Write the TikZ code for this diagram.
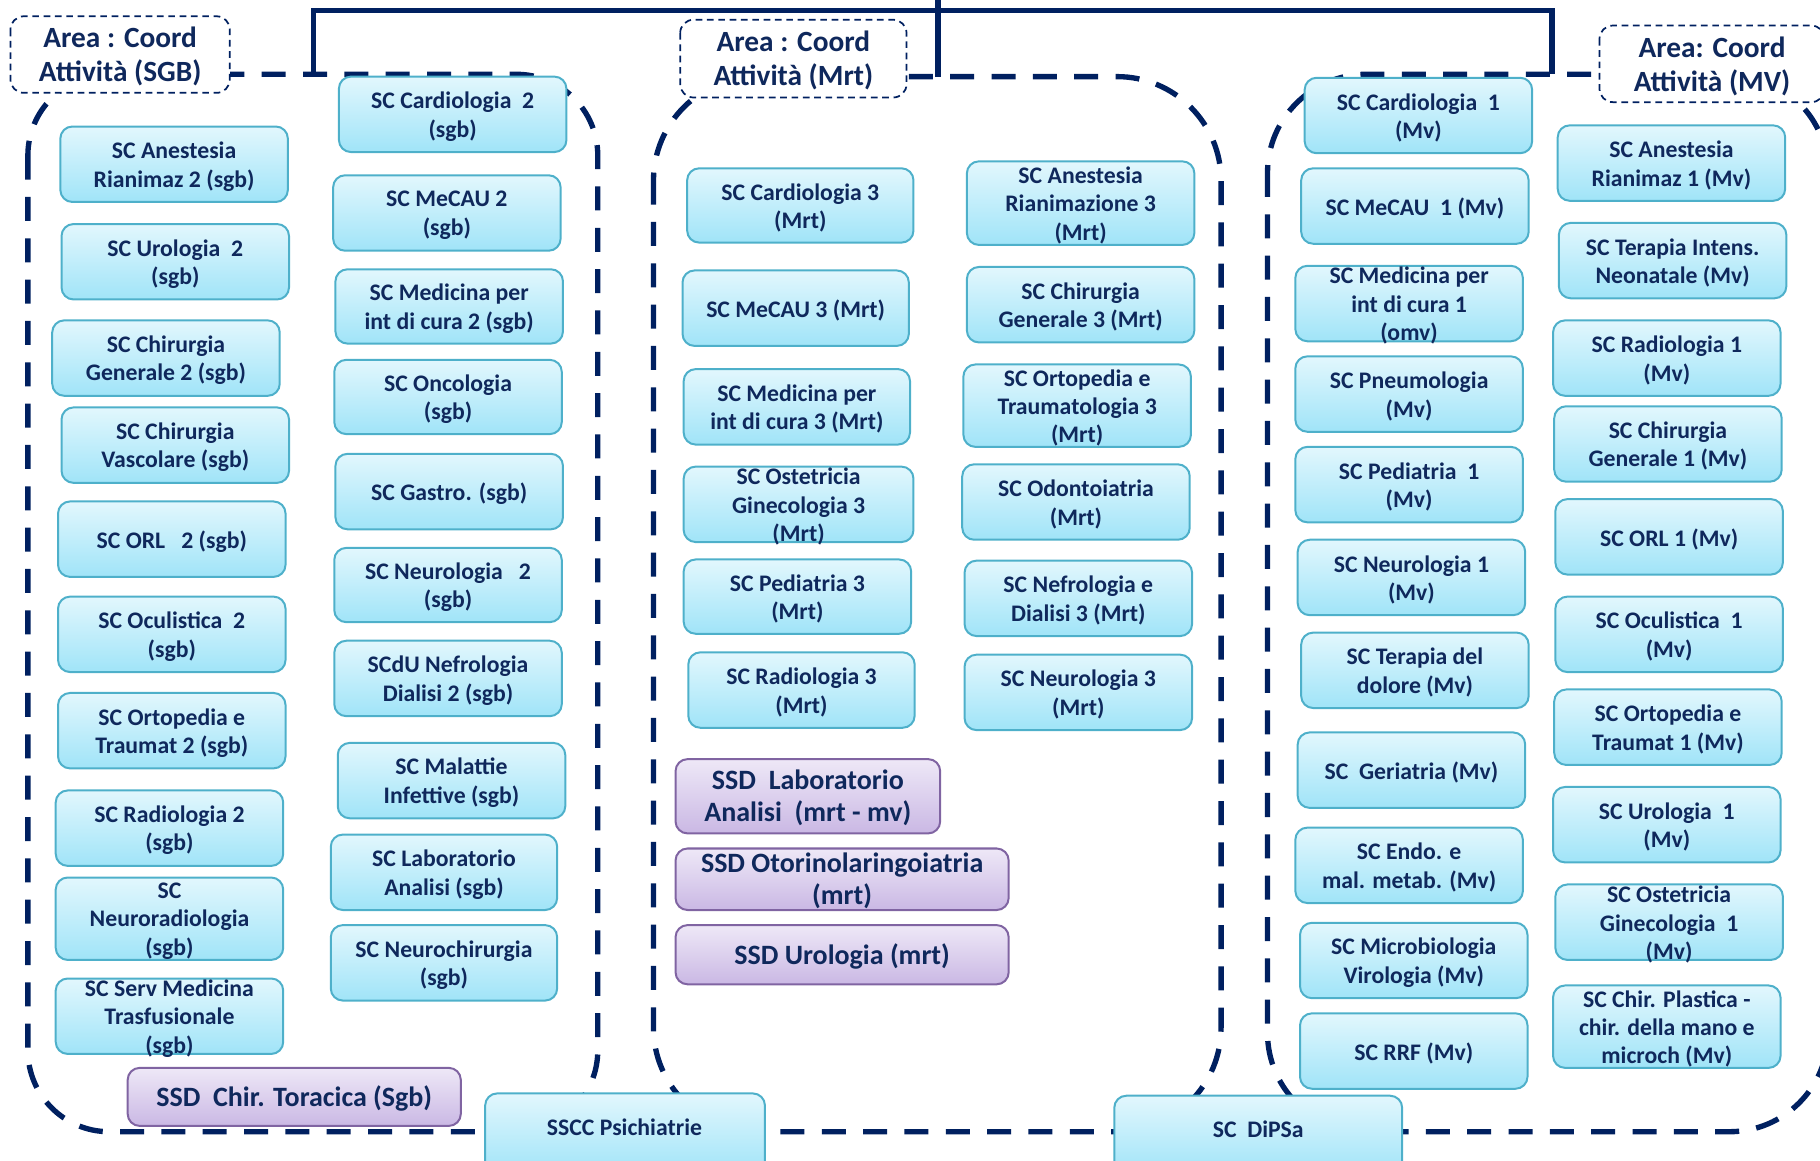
\documentclass[tikz,border=0pt]{standalone}
\usepackage{fontspec}
\setmainfont{Carlito}
\usetikzlibrary{calc}

\definecolor{navy}{RGB}{0,32,96}
\definecolor{ink}{RGB}{15,40,92}
\definecolor{aquaedge}{RGB}{78,176,202}
\definecolor{aquatop}{RGB}{226,247,253}
\definecolor{aquabot}{RGB}{160,228,248}
\definecolor{lilacedge}{RGB}{128,100,162}
\definecolor{lilactop}{RGB}{238,232,247}
\definecolor{lilacbot}{RGB}{202,184,228}

\tikzset{
  unitbox/.style={draw=aquaedge, line width=1.5pt, rounded corners=9pt,
    top color=aquatop, bottom color=aquabot},
  ssdbox/.style={draw=lilacedge, line width=1.5pt, rounded corners=9pt,
    top color=lilactop, bottom color=lilacbot},
  unittext/.style={text=ink, font=\bfseries\fontsize{17.8}{21.3}\selectfont,
    align=center, inner sep=0pt, yshift=-1.7pt},
  ssdtext/.style={text=ink, font=\bfseries\fontsize{21}{24}\selectfont,
    align=center, inner sep=0pt, yshift=-1.5pt},
  areabox/.style={draw=navy, fill=white, line width=1.3pt,
    dash pattern=on 5pt off 3.5pt, rounded corners=10pt},
  areatext/.style={text=ink, font=\bfseries\fontsize{22}{25.5}\selectfont,
    align=center, inner sep=0pt, yshift=-1.7pt},
  zone/.style={draw=navy, line width=4pt, dash pattern=on 18pt off 13pt},
  link/.style={draw=navy, line width=4pt},
}

% #1 box style, #2 text style, #3 name, (#4,#5)-(#6,#7) corners, #8 label
\newcommand\orgcell[8]{%
  \path[#1] (#4,#5) rectangle (#6,#7);
  \node[#2] (#3) at ({(#4+#6)/2},{(#5+#7)/2}) {#8};}
\newcommand\unit[6]{\orgcell{unitbox}{unittext}{#1}{#2}{#3}{#4}{#5}{#6}}
\newcommand\ssd[6]{\orgcell{ssdbox}{ssdtext}{#1}{#2}{#3}{#4}{#5}{#6}}

\begin{document}
\begin{tikzpicture}[x=0.8705pt, y=-0.8705pt]
\useasboundingbox (0,0) rectangle (1568,999.4);

% the three area outlines
\draw[zone, rounded corners=61pt] (24,64) rectangle (515,975);
\draw[zone, rounded corners=78pt] (563,66) rectangle (1052,975);
\draw[zone, rounded corners=74pt] (1092,64) rectangle (1575,975);

% top bracket joining the areas
\coordinate (z1) at (270,64);
\coordinate (z2) at (808,66);
\coordinate (z3) at (1337,64);
\coordinate (hub) at (808,9);
\coordinate (apex) at (808,-3);
\draw[link] (z1) |- (hub) -| (z3);
\draw[link] (apex) -- (z2);

% area titles
\orgcell{areabox}{areatext}{t1}{9}{14}{198}{80}{Area : Coord\\Attività (SGB)}
\orgcell{areabox}{areatext}{t2}{586}{17}{781}{84}{Area : Coord\\Attività (Mrt)}
\path[areabox] (1378,22) rectangle (1572,88);
\node[areatext] (t3) at (1475,55) {Area: Coord\\Attività (MV)};

% SGB, first column
\unit{a1}{52}{109}{248}{174}{SC Anestesia\\Rianimaz 2 (sgb)}
\unit{a2}{53}{193}{249}{258}{SC Urologia~~2\\(sgb)}
\unit{a3}{45}{276}{241}{341}{SC Chirurgia\\Generale 2 (sgb)}
\unit{a4}{53}{351}{249}{416}{SC Chirurgia\\Vascolare (sgb)}
\unit{a5}{50}{432}{246}{497}{SC ORL~~~2 (sgb)}
\unit{a6}{50}{514}{246}{579}{SC Oculistica~~2\\(sgb)}
\unit{a7}{50}{597}{246}{662}{SC Ortopedia e\\Traumat 2 (sgb)}
\unit{a8}{48}{681}{244}{746}{SC Radiologia 2\\(sgb)}
\unit{a9}{48}{756}{244}{827}{SC\\Neuroradiologia\\(sgb)}
\unit{a10}{48}{843}{244}{908}{SC Serv Medicina\\Trasfusionale\\(sgb)}
\ssd{s1}{110}{920}{397}{970}{SSD~~Chir. Toracica (Sgb)}

% SGB, second column
\unit{b1}{292}{66}{488}{131}{SC Cardiologia~~2\\(sgb)}
\unit{b2}{287}{151}{483}{216}{SC MeCAU 2\\(sgb)}
\unit{b3}{289}{232}{485}{296}{SC Medicina per\\int di cura 2 (sgb)}
\unit{b4}{288}{310}{484}{374}{SC Oncologia\\(sgb)}
\unit{b5}{289}{391}{485}{456}{SC Gastro. (sgb)}
\unit{b6}{288}{472}{484}{536}{SC Neurologia~~~2\\(sgb)}
\unit{b7}{288}{552}{484}{617}{SCdU Nefrologia\\Dialisi 2 (sgb)}
\unit{b8}{291}{640}{487}{705}{SC Malattie\\Infettive (sgb)}
\unit{b9}{285}{719}{480}{784}{SC Laboratorio\\Analisi (sgb)}
\unit{b10}{285}{797}{480}{862}{SC Neurochirurgia\\(sgb)}

% Mrt, first column
\unit{c1}{592}{145}{787}{209}{SC Cardiologia 3\\(Mrt)}
\unit{c2}{588}{233}{783}{298}{SC MeCAU 3 (Mrt)}
\unit{c3}{589}{318}{784}{383}{SC Medicina per\\int di cura 3 (Mrt)}
\unit{c4}{589}{402}{787}{467}{SC Ostetricia\\Ginecologia 3\\(Mrt)}
\unit{c5}{589}{482}{785}{546}{SC Pediatria 3\\(Mrt)}
\unit{c6}{593}{562}{788}{627}{SC Radiologia 3\\(Mrt)}
\ssd{s2}{582}{654}{810}{718}{SSD~~Laboratorio\\Analisi~~(mrt - mv)}
\ssd{s3}{582}{731}{869}{784}{SSD Otorinolaringoiatria\\(mrt)}
\ssd{s4}{582}{797}{869}{848}{SSD Urologia (mrt)}

% Mrt, second column
\unit{d1}{833}{139}{1029}{211}{SC Anestesia\\Rianimazione 3\\(Mrt)}
\unit{d2}{833}{230}{1029}{295}{SC Chirurgia\\Generale 3 (Mrt)}
\unit{d3}{830}{314}{1026}{385}{SC Ortopedia e\\Traumatologia 3\\(Mrt)}
\unit{d4}{829}{400}{1025}{465}{SC Odontoiatria\\(Mrt)}
\unit{d5}{831}{483}{1027}{548}{SC Nefrologia e\\Dialisi 3 (Mrt)}
\unit{d6}{831}{564}{1027}{629}{SC Neurologia 3\\(Mrt)}

% Mv, first column
\unit{e1}{1124}{67}{1320}{132}{SC Cardiologia~~1\\(Mv)}
\unit{e2}{1121}{145}{1317}{210}{SC MeCAU~~1 (Mv)}
\unit{e3}{1116}{229}{1312}{294}{SC Medicina per\\int di cura 1\\(omv)}
\unit{e4}{1116}{307}{1312}{372}{SC Pneumologia\\(Mv)}
\unit{e5}{1116}{385}{1312}{450}{SC Pediatria~~1\\(Mv)}
\unit{e6}{1118}{465}{1314}{530}{SC Neurologia 1\\(Mv)}
\unit{e7}{1121}{545}{1317}{610}{SC Terapia del\\dolore (Mv)}
\unit{e8}{1118}{631}{1314}{696}{SC~~Geriatria (Mv)}
\unit{e9}{1116}{713}{1312}{778}{SC Endo. e\\mal. metab. (Mv)}
\unit{e10}{1120}{795}{1316}{860}{SC Microbiologia\\Virologia (Mv)}
\unit{e11}{1120}{873}{1316}{938}{SC RRF (Mv)}

% Mv, second column
\unit{f1}{1342}{108}{1538}{173}{SC Anestesia\\Rianimaz 1 (Mv)}
\unit{f2}{1343}{192}{1539}{257}{SC Terapia Intens.\\Neonatale (Mv)}
\unit{f3}{1338}{276}{1534}{341}{SC Radiologia 1\\(Mv)}
\unit{f4}{1339}{350}{1535}{415}{SC Chirurgia\\Generale 1 (Mv)}
\unit{f5}{1340}{430}{1536}{495}{SC ORL 1 (Mv)}
\unit{f6}{1340}{514}{1536}{579}{SC Oculistica~~1\\(Mv)}
\unit{f7}{1339}{594}{1535}{659}{SC Ortopedia e\\Traumat 1 (Mv)}
\unit{f8}{1338}{678}{1534}{743}{SC Urologia~~1\\(Mv)}
\unit{f9}{1340}{762}{1536}{827}{SC Ostetricia\\Ginecologia~~1\\(Mv)}
\unit{f10}{1338}{849}{1534}{920}{SC Chir. Plastica -\\chir. della mano e\\microch (Mv)}

% shared units along the bottom edge
\path[unitbox] (418,942) rectangle (659,1012);
\node[unittext, yshift=1.7pt] (psi) at (538,971) {SSCC Psichiatrie};
\path[unitbox] (960,944) rectangle (1208,1012);
\node[unittext, yshift=1.7pt] (dipsa) at (1084,973) {SC~~DiPSa};
\end{tikzpicture}
\end{document}
